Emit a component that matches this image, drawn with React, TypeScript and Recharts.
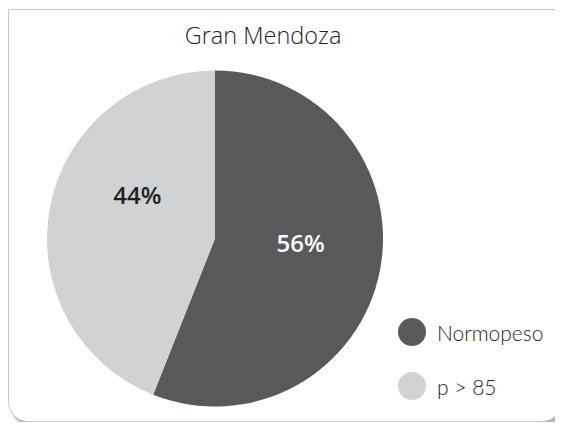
import { PieChart, Pie, Cell, Legend } from "recharts";

const categories = ["Normopeso", "p > 85"];
const shares = [56, 44];
const colors = ["#58595b", "#d1d2d4"];

const data = categories.map((name, i) => ({ name, value: shares[i] }));

const RADIAN = Math.PI / 180;

// Excel-style placement: labels nudged from the slice midpoint
const labelShift = [
  { angle: 8, radius: 0.51 },
  { angle: -18.6, radius: 0.53 },
];

function renderLabel(props: any) {
  const { cx, cy, midAngle, outerRadius, index, value } = props;
  const s = labelShift[index];
  const a = (midAngle + s.angle) * RADIAN;
  const r = outerRadius * s.radius;
  const x = cx + r * Math.cos(a);
  const y = cy - r * Math.sin(a);
  return (
    <text
      x={x}
      y={y}
      textAnchor="middle"
      dominantBaseline="central"
      fill={index === 0 ? "#ffffff" : "#231f20"}
      fontFamily="'Open Sans', sans-serif"
      fontWeight={600}
      fontSize={24}
    >
      {`${value}%`}
    </text>
  );
}

function LegendContent() {
  return (
    <div>
      {categories.map((name, i) => (
        <div
          key={name}
          style={{ display: "flex", alignItems: "center", height: 54 }}
        >
          <svg width={30} height={30}>
            <circle cx={15} cy={15} r={14} fill={colors[i]} />
          </svg>
          <span
            style={{
              marginLeft: 10,
              fontFamily: "Lato, sans-serif",
              fontWeight: 300,
              fontSize: 21,
              color: "#231f20",
            }}
          >
            {name}
          </span>
        </div>
      ))}
    </div>
  );
}

export default function App() {
  return (
    <div
      style={{
        position: "relative",
        marginTop: 1,
        width: 552,
        height: 411,
        border: "1px solid #c8c8c8",
        borderRadius: "0 0 20px 20px",
        boxShadow: "3px 4px 2px rgba(0,0,0,0.3)",
        background: "#fff",
      }}
    >
      <div
        style={{
          position: "absolute",
          left: 0,
          width: 508,
          top: 9,
          textAlign: "center",
          fontFamily: "'Open Sans', sans-serif",
          fontWeight: 300,
          fontSize: 23.5,
          color: "#231f20",
        }}
      >
        Gran Mendoza
      </div>
      <PieChart width={552} height={411}>
        <Pie
          data={data}
          dataKey="value"
          nameKey="name"
          cx={201}
          cy={223.5}
          outerRadius={168}
          startAngle={90}
          endAngle={-270}
          stroke="none"
          labelLine={false}
          label={renderLabel}
          isAnimationActive={false}
        >
          {data.map((d, i) => (
            <Cell key={d.name} fill={colors[i]} />
          ))}
        </Pie>
        <Legend
          content={<LegendContent />}
          wrapperStyle={{ left: 388, top: 295, width: 160 }}
        />
      </PieChart>
    </div>
  );
}
